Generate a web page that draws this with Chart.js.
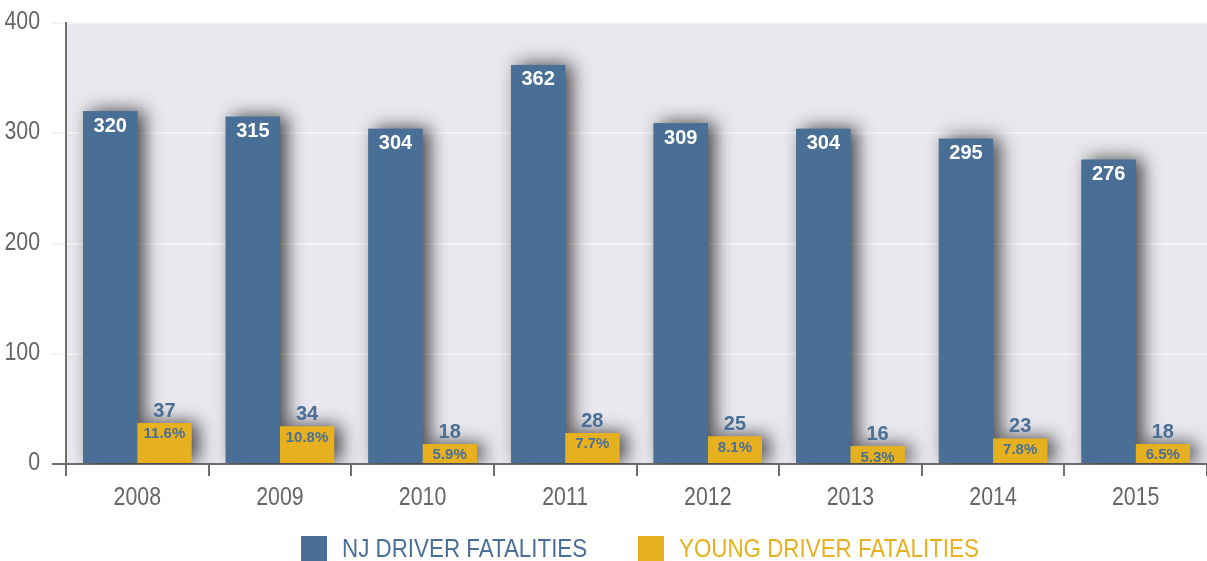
<!DOCTYPE html>
<html>
<head>
<meta charset="utf-8">
<script src="https://cdn.jsdelivr.net/npm/chart.js@4"></script>
<style>
  html, body { margin: 0; padding: 0; background: #fff; }
  #wrap { width: 1207px; height: 561px; position: relative; }
</style>
</head>
<body>
<div id="wrap"><canvas id="chart"></canvas></div>
<script>
// data
const years = ['2008', '2009', '2010', '2011', '2012', '2013', '2014', '2015'];
const njDrivers = [320, 315, 304, 362, 309, 304, 295, 276];
const youngDrivers = [37, 34, 18, 28, 25, 16, 23, 18];
const youngShare = ['11.6%', '10.8%', '5.9%', '7.7%', '8.1%', '5.3%', '7.8%', '6.5%'];
const yTicks = [0, 100, 200, 300, 400];

const BLUE = '#4a6f96';
const GOLD = '#e7b01f';
const SANS = "'Liberation Sans', Arial, sans-serif";

// Arial Narrow look-alike: Liberation Sans squeezed horizontally
function narrowText(ctx, text, x, y, align, size, color, squeeze = 0.82) {
  ctx.save();
  ctx.font = size + 'px ' + SANS;
  ctx.fillStyle = color;
  ctx.textAlign = align;
  ctx.textBaseline = 'middle';
  ctx.translate(x, y);
  ctx.scale(squeeze, 1);
  ctx.fillText(text, 0, 0);
  ctx.restore();
}

/**
 * plot background + bar shadows (drawn under every bar)
 */
const backdrop = {
  id: 'backdrop',
  beforeDraw(chart) {
    const {ctx, chartArea: a} = chart;
    ctx.save();
    ctx.fillStyle = '#e8e8ee';
    ctx.fillRect(a.left, a.top, a.right - a.left, a.bottom - a.top);
    ctx.restore();
  },
  beforeDatasetsDraw(chart) {
    const {ctx, chartArea: a} = chart;
    ctx.save();
    ctx.beginPath();
    ctx.rect(a.left + 1, a.top, a.right - a.left, a.bottom - a.top);
    ctx.clip();
    ctx.shadowColor = 'rgba(0,0,0,0.7)';
    ctx.shadowBlur = 18;
    ctx.shadowOffsetX = 7;
    ctx.shadowOffsetY = -1;
    chart.data.datasets.forEach((ds, i) => {
      ctx.fillStyle = ds.backgroundColor;
      chart.getDatasetMeta(i).data.forEach(bar => {
        ctx.fillRect(bar.x - bar.width / 2, bar.y, bar.width, bar.base - bar.y);
      });
    });
    ctx.restore();
  }
};

// value labels, tick labels, legend
const labels = {
  id: 'labels',
  afterDatasetsDraw(chart) {
    const {ctx} = chart;
    ctx.save();
    ctx.textAlign = 'center';
    ctx.textBaseline = 'middle';
    chart.getDatasetMeta(0).data.forEach((bar, i) => {
      ctx.font = 'bold 20px ' + SANS;
      ctx.fillStyle = '#ffffff';
      ctx.fillText(njDrivers[i], bar.x, bar.y + 15);
    });
    chart.getDatasetMeta(1).data.forEach((bar, i) => {
      ctx.font = 'bold 20px ' + SANS;
      ctx.fillStyle = BLUE;
      ctx.fillText(youngDrivers[i], bar.x, bar.y - 12);
      ctx.font = 'bold 15px ' + SANS;
      ctx.fillText(youngShare[i], bar.x, bar.y + 11);
    });
    ctx.restore();
  },
  afterDraw(chart) {
    const {ctx} = chart;
    const xs = chart.scales.x, ys = chart.scales.y;
    xs.ticks.forEach((t, i) => {
      narrowText(ctx, years[i], xs.getPixelForTick(i), 498, 'center', 26, '#666666');
    });
    ys.ticks.forEach((t, i) => {
      narrowText(ctx, String(t.value), 40, ys.getPixelForTick(i) - 1, 'right', 26, '#666666');
    });
    const items = [
      {x: 301, color: BLUE, text: chart.data.datasets[0].label},
      {x: 638, color: GOLD, text: chart.data.datasets[1].label}
    ];
    items.forEach(it => {
      ctx.fillStyle = it.color;
      ctx.fillRect(it.x, 536, 26, 26);
      narrowText(ctx, it.text, it.x + 41, 550, 'left', 26, it.color, 0.86);
    });
  }
};

const ctx = document.getElementById('chart').getContext('2d');
const chart = new Chart(ctx, {
  type: 'bar',
  data: {
    labels: years,
    datasets: [{
      label: 'NJ DRIVER FATALITIES',
      data: njDrivers,
      backgroundColor: BLUE,
      borderWidth: 0
    },
    {
      label: 'YOUNG DRIVER FATALITIES',
      data: youngDrivers,
      backgroundColor: GOLD,
      borderWidth: 0
    }]
  },
  options: {
    responsive: true,
    maintainAspectRatio: false,
    animation: false,
    layout: {
      padding: {top: 23, right: 0, bottom: 31, left: 0}
    },
    datasets: {
      bar: {
        barPercentage: 1,
        categoryPercentage: 0.76
      }
    },
    scales: {
      x: {
        offset: true,
        grid: {
          offset: true,
          drawOnChartArea: false,
          drawTicks: true,
          tickLength: 12,
          color: '#6e6e6e',
          lineWidth: 2
        },
        border: {color: '#6e6e6e', width: 2},
        ticks: {display: false},
        afterFit(scale) {
          scale.height = 66;
        }
      },
      y: {
        min: 0,
        max: 400,
        afterBuildTicks(scale) {
          scale.ticks = yTicks.map(v => ({value: v}));
        },
        grid: {
          tickLength: 14,
          color: c => c.tick && c.tick.value === 0 ? '#6e6e6e' : '#f4f4f7',
          lineWidth: 2
        },
        border: {color: '#6e6e6e', width: 2},
        ticks: {display: false},
        afterFit(scale) {
          scale.width = 66;
        }
      }
    },
    plugins: {
      legend: {display: false},
      tooltip: {enabled: false}
    }
  },
  plugins: [backdrop, labels]
});
</script>
</body>
</html>
